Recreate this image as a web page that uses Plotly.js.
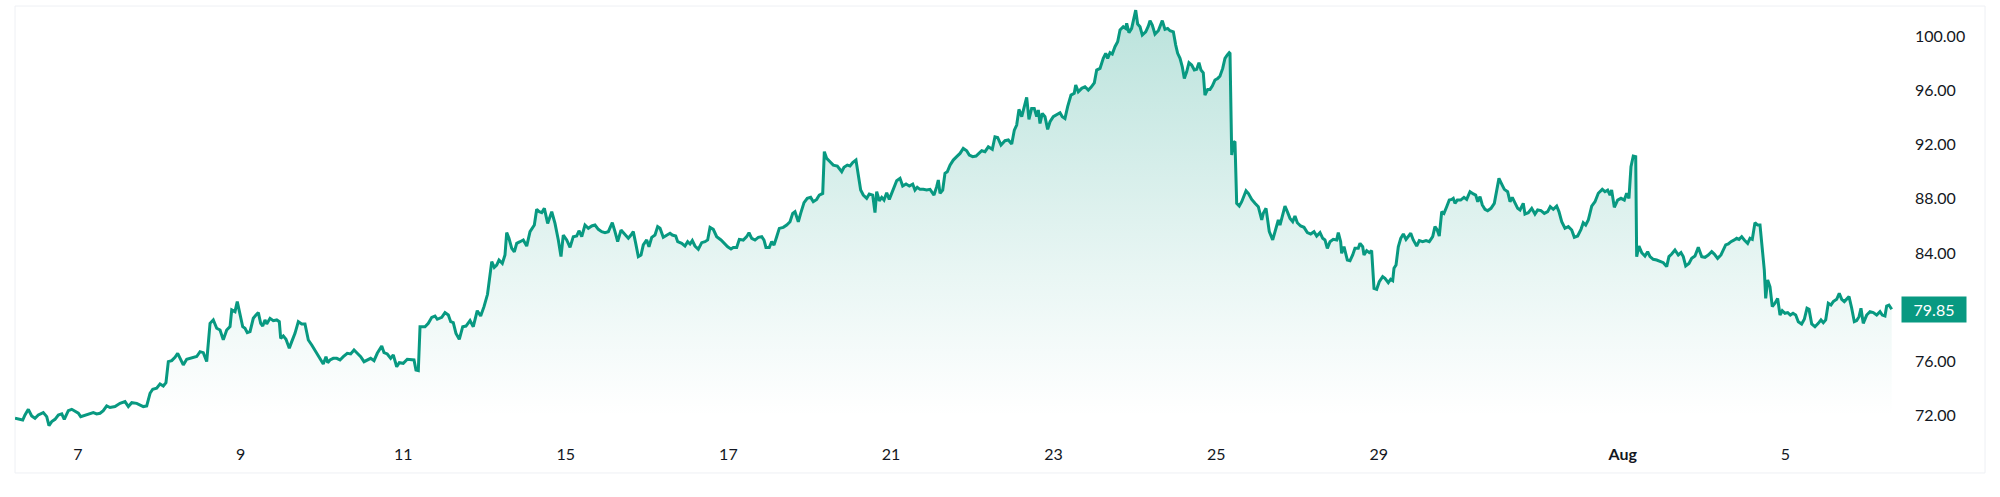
<!DOCTYPE html>
<html>
<head>
<meta charset="utf-8">
<script src="https://cdn.plot.ly/plotly-3.0.1.min.js"></script>
<style>
  html, body { margin: 0; padding: 0; background: #ffffff; }
  #chart { width: 2000px; height: 497px; }
</style>
</head>
<body>
<div id="chart"></div>
<script>
// position in trading sessions counted from the Jul 7 open (weekends removed)
const sessionPos = [
  -0.775,-0.713,-0.680,-0.652,-0.611,-0.570,-0.529,-0.488,-0.427,-0.385,-0.357,-0.323,-0.283,-0.242,-0.200,-0.169,-0.119,-0.077,-0.037,
  0.004,0.033,0.086,0.148,0.188,0.230,0.271,0.311,0.353,0.394,0.455,0.517,0.578,0.619,0.661,0.722,0.763,0.803,0.845,0.886,0.919,0.968,
  1.009,1.049,1.082,1.111,1.153,1.193,1.226,1.255,1.295,1.337,1.378,1.460,1.501,1.541,1.583,1.624,1.664,1.706,1.747,1.787,1.829,1.870,1.891,1.931,1.959,1.993,
  2.026,2.054,2.082,2.116,2.156,2.189,2.218,2.247,2.272,2.300,2.321,2.362,2.402,2.444,2.476,2.493,2.525,2.558,2.599,2.629,2.669,2.710,2.752,2.792,2.833,2.875,2.915,2.977,
  3.017,3.050,3.071,3.100,3.140,3.182,3.223,3.263,3.312,3.354,3.395,3.435,3.477,3.518,3.558,3.600,3.641,3.681,3.736,3.764,3.804,3.846,3.878,3.920,3.952,
  4.001,4.050,4.092,4.133,4.157,4.186,4.207,4.268,4.309,4.351,4.391,4.419,4.474,4.514,4.555,4.584,4.616,4.649,4.690,4.732,4.772,4.822,4.862,4.911,4.953,4.994,
  5.037,5.068,5.089,5.120,5.150,5.178,5.219,5.252,5.273,5.301,5.335,5.367,5.396,5.437,5.477,5.519,5.560,5.613,5.642,5.674,5.704,5.736,5.777,5.827,5.867,5.908,5.941,5.969,
  6.011,6.052,6.092,6.134,6.162,6.196,6.236,6.277,6.319,6.359,6.400,6.442,6.482,6.523,6.572,6.605,6.638,6.679,6.728,6.769,6.802,6.830,6.860,6.892,6.925,6.953,6.995,
  7.023,7.057,7.097,7.130,7.159,7.199,7.241,7.282,7.310,7.352,7.376,7.426,7.466,7.499,7.528,7.556,7.589,7.630,7.672,7.712,7.745,7.774,7.814,7.856,7.909,7.950,7.991,
  8.032,8.060,8.102,8.134,8.183,8.225,8.253,8.287,8.327,8.368,8.410,8.438,8.462,8.503,8.533,8.561,8.594,8.626,8.675,8.717,8.758,8.791,8.819,8.860,8.889,8.930,8.970,
  9.012,9.044,9.086,9.118,9.160,9.180,9.209,9.250,9.290,9.340,9.394,9.422,9.463,9.496,9.529,9.569,9.598,9.627,9.659,9.701,9.733,9.775,9.803,9.824,9.856,9.886,9.914,9.947,9.979,
  10.028,10.070,10.111,10.144,10.185,10.225,10.267,10.295,10.323,10.357,10.397,10.439,10.480,10.529,10.562,10.582,10.603,10.636,10.664,10.692,10.726,10.766,10.808,10.849,10.889,10.931,10.963,
  11.005,11.046,11.074,11.116,11.156,11.197,11.246,11.279,11.312,11.353,11.402,11.443,11.485,11.517,11.546,11.574,11.608,11.640,11.669,11.697,11.730,11.762,11.792,11.812,11.833,11.861,11.894,11.927,11.956,11.996,
  12.038,12.079,12.107,12.140,12.173,12.214,12.254,12.272,12.304,12.346,12.386,12.427,12.460,12.501,12.530,12.571,12.611,12.641,12.665,12.694,12.722,12.755,12.788,12.817,12.857,12.887,12.899,12.927,12.960,12.992,
  13.010,13.034,13.063,13.091,13.133,13.165,13.186,13.214,13.247,13.288,13.321,13.337,13.370,13.403,13.432,13.473,13.502,13.526,13.555,13.583,13.608,13.637,13.665,13.698,13.731,13.760,13.788,13.813,13.841,13.862,13.895,13.924,13.952,13.985,
  14.018,14.046,14.080,14.108,14.137,14.161,14.170,14.191,14.210,14.231,14.252,14.284,14.314,14.342,14.367,14.395,14.437,14.477,14.518,14.560,14.579,14.613,14.653,14.695,14.736,14.764,14.785,14.818,14.846,14.875,14.908,14.941,14.969,14.998,
  15.039,15.080,15.121,15.162,15.203,15.236,15.277,15.310,15.338,15.367,15.400,15.440,15.482,15.502,15.531,15.543,15.572,15.613,15.646,15.679,15.707,15.748,15.769,15.802,15.818,15.851,15.883,15.912,15.941,15.974,
  16.006,16.048,16.076,16.117,16.146,16.171,16.187,16.212,16.240,16.270,16.302,16.335,16.363,16.393,16.424,16.466,16.498,16.540,16.581,16.621,16.663,16.691,16.719,16.744,16.774,16.802,16.835,16.867,16.897,16.916,16.937,16.966,
  17.007,17.048,17.081,17.122,17.163,17.192,17.217,17.245,17.273,17.306,17.339,17.380,17.421,17.450,17.478,17.512,17.544,17.585,17.614,17.642,17.675,17.708,17.737,17.777,17.798,17.839,17.881,17.921,17.954,17.995,
  18.036,18.077,18.109,18.146,18.188,18.216,18.250,18.290,18.331,18.373,18.405,18.446,18.487,18.515,18.545,18.577,18.619,18.659,18.700,18.749,18.782,18.815,18.844,18.864,18.897,18.938,18.979,
  19.020,19.049,19.077,19.102,19.130,19.160,19.172,19.200,19.234,19.274,19.307,19.336,19.376,19.418,19.459,19.500,19.541,19.569,19.603,19.643,19.684,19.717,19.745,19.775,19.815,19.849,19.889,19.930,19.972,
  20.012,20.053,20.095,20.127,20.168,20.209,20.237,20.267,20.299,20.332,20.373,20.402,20.431,20.464,20.496,20.537,20.566,20.594,20.627,20.660,20.689,20.717,20.742,20.759,20.783,20.812,20.840,20.873,20.906,20.935,20.963,20.996,
  21.030,21.062,21.095,21.128,21.160,21.201,21.234,21.267,21.292,21.325,21.365,21.406,21.439,21.468,21.497,21.529,21.562,21.590,21.632,21.664,21.694,21.726,21.755,21.784,21.817,21.849,21.878,21.907,21.931,21.959,
  22.001,22.042,22.082,22.124,22.165,22.193,22.226,22.247,22.275,22.309
];

const closePrice = [
  71.81,71.73,71.68,72.05,72.47,71.98,71.81,72.05,72.23,71.93,71.27,71.56,71.73,72.05,72.13,71.73,72.37,72.47,72.30,
  72.18,71.93,72.05,72.18,72.23,72.13,72.18,72.37,72.72,72.60,72.67,72.91,73.04,72.67,72.96,72.91,72.79,72.67,72.72,73.65,73.95,74.02,
  74.34,74.19,74.44,75.99,76.06,76.31,76.60,76.23,75.74,76.16,76.23,76.36,76.72,76.65,75.99,78.81,79.06,78.45,78.32,77.59,78.32,78.57,79.80,79.67,80.41,79.55,
  78.56,78.44,78.12,78.20,79.18,79.42,79.60,78.81,78.61,79.06,78.76,79.18,79.01,79.06,78.93,77.70,77.88,77.63,76.97,77.46,78.07,78.93,78.76,78.76,77.58,77.21,76.84,76.23,
  75.81,76.35,75.91,76.11,76.23,76.23,76.11,76.35,76.60,76.55,76.84,76.60,76.35,75.98,76.11,76.23,76.06,76.60,77.14,76.65,76.55,76.23,76.48,75.61,75.91,
  75.86,76.16,76.11,76.11,75.37,75.32,78.56,78.56,78.81,79.25,79.35,79.11,79.25,79.60,79.42,78.93,78.86,78.07,77.63,78.56,78.61,79.01,78.56,79.74,79.35,80.04,
  80.95,82.50,83.36,82.94,83.11,83.48,83.23,83.85,85.50,85.08,84.34,84.09,84.71,84.83,84.96,84.51,85.57,86.06,87.22,87.04,86.97,87.29,86.18,87.04,86.18,84.96,83.73,85.32,
  84.96,84.41,85.20,85.25,85.64,85.20,86.06,85.82,85.99,86.06,85.74,85.57,85.50,85.57,86.23,85.57,84.83,85.69,85.32,85.08,85.32,85.57,84.71,83.73,83.85,84.59,84.96,
  84.46,85.15,85.32,85.94,85.82,85.15,85.32,85.45,85.32,85.25,84.83,84.71,84.51,84.83,84.66,84.91,84.51,84.27,84.76,84.83,84.96,85.89,85.74,85.20,84.96,84.71,84.46,
  84.30,84.41,84.41,85.00,84.95,85.20,85.49,85.08,84.95,85.15,85.20,84.95,84.41,84.41,84.83,84.58,85.20,85.81,85.89,86.06,86.30,86.92,87.04,86.30,86.92,87.71,88.03,
  88.10,87.78,87.95,88.27,88.39,91.47,90.97,90.73,90.48,90.41,89.99,90.31,90.48,90.41,90.66,90.85,89.62,88.64,88.27,88.03,88.35,88.27,86.97,88.52,87.85,88.10,87.90,88.44,87.95,
  88.64,89.33,89.50,88.94,89.08,88.94,89.08,88.64,88.84,88.69,88.69,88.64,88.69,88.27,88.89,89.38,88.39,88.64,89.87,89.99,90.48,90.85,91.10,91.34,91.71,91.54,91.22,
  91.10,91.15,91.29,91.54,91.47,91.83,91.64,92.57,92.52,91.96,92.28,92.33,92.03,93.06,93.43,94.59,94.05,94.83,95.47,93.85,94.66,94.66,94.05,94.54,93.55,94.29,94.05,93.11,93.68,94.05,
  94.17,94.34,94.05,93.92,94.79,95.64,95.77,96.38,95.89,96.14,96.26,96.01,96.21,96.55,97.49,97.61,98.35,98.72,98.35,98.77,98.67,99.21,99.58,100.44,100.68,100.56,100.93,100.24,100.56,101.30,
  101.91,100.88,100.68,100.07,100.31,100.73,101.13,100.81,100.14,100.39,100.88,101.13,100.49,100.56,100.39,100.31,99.33,98.72,98.35,97.73,96.87,97.36,98.03,97.86,97.49,97.54,98.03,97.49,97.29,95.64,96.06,96.06,96.31,96.75,
  96.87,97.03,97.61,98.35,98.60,98.77,98.72,91.22,92.13,92.21,87.66,87.46,87.78,88.15,88.59,88.40,87.95,87.66,87.41,86.43,86.92,87.29,85.57,84.96,85.82,86.43,86.06,86.92,87.46,87.05,86.55,86.31,86.73,86.23,
  85.99,85.89,85.50,85.40,85.57,85.25,85.50,85.08,84.96,84.34,84.83,85.00,84.96,85.50,84.83,83.97,84.46,83.48,83.43,83.85,84.34,84.34,84.71,84.46,83.85,84.17,84.02,84.17,81.39,81.32,
  81.88,82.25,82.13,81.81,82.06,81.96,82.87,83.11,84.46,85.08,85.40,85.00,85.20,85.45,84.96,84.51,84.91,84.83,84.91,84.83,85.20,85.94,85.69,85.25,87.05,86.92,87.41,87.90,87.95,88.03,87.66,87.90,
  87.90,88.10,87.95,88.52,88.35,88.27,87.78,88.15,87.54,87.22,87.12,87.29,87.66,88.77,89.50,89.08,88.69,88.52,87.78,88.10,87.71,87.29,87.17,87.66,86.87,86.97,87.29,86.87,87.17,87.12,
  86.92,87.05,87.41,87.22,87.46,87.05,86.31,85.82,85.94,85.69,85.15,85.25,85.74,86.23,86.06,86.43,87.46,87.78,88.40,88.69,88.52,88.64,88.27,88.64,87.36,87.90,88.03,
  87.90,88.40,88.03,90.36,91.15,91.10,83.73,84.51,84.02,83.77,84.09,83.73,83.53,83.48,83.36,83.28,82.99,83.73,83.92,84.22,83.85,84.02,83.73,83.04,83.23,83.60,83.77,84.41,83.73,
  83.68,83.85,84.10,83.92,83.60,83.85,84.22,84.59,84.66,84.83,84.96,85.08,85.00,85.20,84.96,84.71,85.08,85.00,86.23,86.06,86.06,84.46,82.74,80.65,82.01,81.51,80.04,80.29,80.65,79.42,79.74,79.55,
  79.60,79.42,79.55,79.42,78.93,78.76,79.11,79.92,79.84,78.76,78.56,78.81,79.06,78.86,79.06,80.29,80.16,80.41,80.58,81.02,80.58,80.41,80.58,80.78,79.92,78.93,79.01,79.30,79.92,78.81,
  79.42,79.67,79.60,79.42,79.67,79.42,79.35,80.09,80.16,79.85
];

const tickPos = [0, 2, 4, 6, 8, 10, 12, 14, 16, 19, 21];
const tickLabels = ['7', '9', '11', '15', '17', '21', '23', '25', '29', '<b>Aug</b>', '5'];
const priceTicks = [72, 76, 84, 88, 92, 96, 100];
const lastPrice = 79.85;

const lineColor = '#089981';
const textColor = '#131722';
const axisFont = {family: 'Lato, "Open Sans", sans-serif', size: 16, color: textColor};

let area = {
  type: 'scatter',
  mode: 'lines',
  x: sessionPos,
  y: closePrice,
  line: {color: lineColor, width: 3, shape: 'linear'},
  fill: 'tozeroy',
  fillgradient: {
    type: 'vertical',
    start: 72,
    stop: 102,
    colorscale: [
      [0, 'rgba(8,153,129,0)'],
      [0.35, 'rgba(8,153,129,0.09)'],
      [1, 'rgba(8,153,129,0.28)']
    ]
  },
  hoverinfo: 'skip'
};

let layout = {
  width: 2000,
  height: 497,
  margin: {l: 15, r: 100, t: 6, b: 57, pad: 0},
  paper_bgcolor: '#ffffff',
  plot_bgcolor: '#ffffff',
  showlegend: false,
  xaxis: {
    range: [-0.775, 22.411],
    showgrid: false,
    zeroline: false,
    showline: false,
    ticks: '',
    tickvals: tickPos,
    ticktext: tickLabels,
    tickfont: axisFont,
    ticklabelstandoff: 3,
    fixedrange: true
  },
  yaxis: {
    side: 'right',
    range: [70.206, 102.212],
    showgrid: false,
    zeroline: false,
    showline: false,
    ticks: '',
    tickvals: priceTicks,
    ticktext: priceTicks.map(v => v.toFixed(2)),
    tickfont: axisFont,
    ticklabelstandoff: 14,
    fixedrange: true
  },
  shapes: [{
    type: 'rect',
    xref: 'paper', yref: 'paper',
    x0: 0, x1: 1.0451, y0: -0.076, y1: 1,
    line: {color: '#eef0f4', width: 1},
    fillcolor: 'rgba(0,0,0,0)',
    layer: 'below'
  }],
  annotations: [{
    xref: 'paper', yref: 'y',
    x: 1, y: lastPrice,
    xanchor: 'left', yanchor: 'middle',
    xshift: 1,
    text: lastPrice.toFixed(2),
    showarrow: false,
    bgcolor: lineColor,
    borderpad: 2,
    width: 60,
    height: 21,
    font: {family: axisFont.family, size: 16, color: '#ffffff'}
  }]
};

Plotly.newPlot('chart', [area], layout, {displayModeBar: false, staticPlot: true});
</script>
</body>
</html>
